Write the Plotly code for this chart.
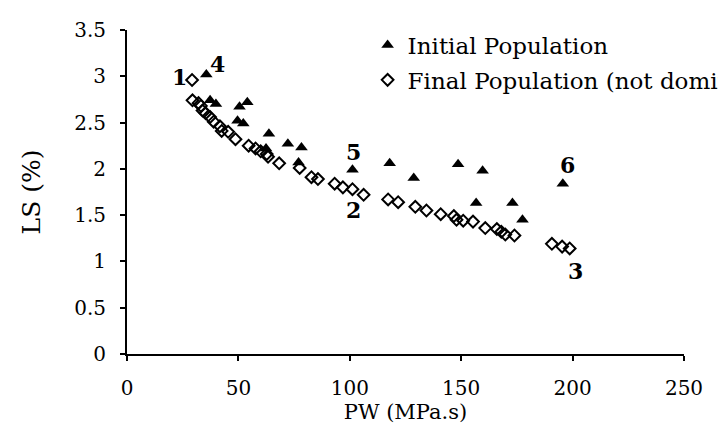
import plotly.graph_objects as go

# Initial population (PW in MPa.s, LS in %)
initial_pw = [35.6, 37.3, 39.9, 50.5, 54.0, 49.6, 52.2, 63.7, 72.2, 78.3, 62.4,
              77.0, 101.2, 117.9, 128.7, 148.6, 159.6, 156.7, 173.0, 177.5, 195.6]
initial_ls = [3.02, 2.74, 2.70, 2.67, 2.72, 2.52, 2.49, 2.38, 2.27, 2.23, 2.22,
              2.07, 1.99, 2.06, 1.90, 2.05, 1.98, 1.63, 1.63, 1.45, 1.84]

# Final (non-dominated) population
final_pw = [29.2, 29.4, 32.1, 33.2, 33.9, 35.3, 37.3, 38.9, 41.7, 42.5, 45.4,
            48.7, 54.6, 57.7, 60.0, 62.7, 63.3, 68.3, 77.5, 82.8, 85.7, 93.2,
            96.9, 101.2, 106.2, 117.2, 121.7, 129.4, 134.4, 140.8, 146.7, 147.9,
            150.9, 155.3, 160.8, 166.0, 168.0, 169.8, 173.9, 190.7, 195.3, 198.7]
final_ls = [2.96, 2.74, 2.71, 2.68, 2.63, 2.60, 2.56, 2.51, 2.46, 2.41, 2.40,
            2.32, 2.25, 2.22, 2.19, 2.16, 2.13, 2.06, 2.01, 1.91, 1.89, 1.84,
            1.80, 1.78, 1.72, 1.67, 1.64, 1.59, 1.55, 1.51, 1.49, 1.45,
            1.44, 1.43, 1.36, 1.35, 1.32, 1.29, 1.28, 1.19, 1.16, 1.14]

# Numbered solution labels
label_text = ["1", "4", "5", "2", "6", "3"]
label_pw = [23.6, 40.7, 101.7, 101.7, 197.9, 201.5]
label_ls = [2.99, 3.13, 2.18, 1.56, 2.04, 0.90]

x_ticks = [0, 50, 100, 150, 200, 250]
y_ticks = [0, 0.5, 1, 1.5, 2, 2.5, 3, 3.5]

FONT = "DejaVu Serif"

fig = go.Figure()
fig.add_trace(go.Scatter(
    x=initial_pw, y=initial_ls, mode="markers", name="Initial Population",
    legendgroup="a",
    marker=dict(symbol="triangle-up", size=11, color="black",
                line=dict(width=0)),
))
fig.add_trace(go.Scatter(
    x=final_pw, y=final_ls, mode="markers",
    name="Final Population (not dominated)", legendgroup="b",
    marker=dict(symbol="diamond-open", size=9, color="black",
                line=dict(width=2, color="black")),
))

for t, xv, yv in zip(label_text, label_pw, label_ls):
    fig.add_annotation(x=xv, y=yv, text=f"<b>{t}</b>", showarrow=False,
                       font=dict(family=FONT, size=22, color="black"))

axis_common = dict(
    showline=True, linecolor="black", linewidth=2,
    ticks="outside", ticklen=5, tickwidth=1.5, tickcolor="black",
    showgrid=False, zeroline=False,
    tickfont=dict(family=FONT, size=20, color="black"),
)

fig.update_xaxes(range=[0, 250], tickvals=x_ticks, ticklabelstandoff=10,
                 title=dict(text="PW (MPa.s)", standoff=4,
                            font=dict(family=FONT, size=21, color="black")),
                 **axis_common)
fig.update_yaxes(range=[0, 3.5], tickvals=y_ticks, ticklabelstandoff=10,
                 title=dict(text="LS (%)", standoff=26,
                            font=dict(family=FONT, size=25, color="black")),
                 **axis_common)

fig.update_layout(
    width=718, height=431,
    margin=dict(l=127, r=34, t=30, b=77, autoexpand=False),
    paper_bgcolor="white", plot_bgcolor="white",
    legend=dict(x=0.432, y=1.02, xanchor="left", yanchor="top",
                font=dict(family=FONT, size=23, color="black"),
                bgcolor="rgba(0,0,0,0)", traceorder="grouped",
                tracegroupgap=2, itemwidth=30),
)

fig.write_html("out.html")
